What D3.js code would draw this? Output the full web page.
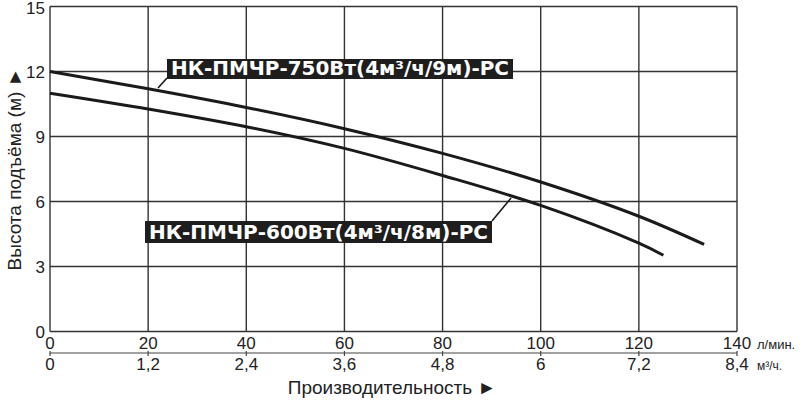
<!DOCTYPE html>
<html><head><meta charset="utf-8">
<script src="https://cdn.jsdelivr.net/npm/d3@7"></script>
<style>body{margin:0;background:#fff}svg{display:block}</style>
</head><body><svg id="c" width="800" height="400"></svg>
<script>
const flowLpm = [0, 20, 40, 60, 80, 100, 120, 140];
const flowM3 = ["0", "1,2", "2,4", "3,6", "4,8", "6", "7,2", "8,4"];
const headTicks = [0, 3, 6, 9, 12, 15];
const series750 = [[0,12],[20,11.2],[40,10.34],[60,9.36],[80,8.22],[100,6.9],[120,5.32],[133.3,4.02]];
const series600 = [[0,11],[20,10.27],[40,9.45],[60,8.45],[80,7.2],[100,5.82],[120,4.08],[125,3.52]];
const label750 = "НК-ПМЧР-750Вт(4м³/ч/9м)-РС";
const label600 = "НК-ПМЧР-600Вт(4м³/ч/8м)-РС";
const xTitle = "Производительность ►";
const yTitle = "Высота подъёма (м) ►";
const unit1 = "л/мин.", unit2 = "м³/ч.";

const svg = d3.select("#c");
const x = d3.scaleLinear().domain([0,140]).range([50,737]);
const y = d3.scaleLinear().domain([0,15]).range([331.5,6.5]);
const ink = "#222";
const font = "'Liberation Sans', Arial, sans-serif";

// grid
svg.append("g").selectAll("line").data(flowLpm).join("line")
  .attr("x1", d=>x(d)).attr("x2", d=>x(d)).attr("y1", y(15)).attr("y2", y(0))
  .attr("stroke", "#333").attr("stroke-width", 1.4);
svg.append("g").selectAll("line").data(headTicks).join("line")
  .attr("x1", x(0)).attr("x2", x(140)).attr("y1", d=>y(d)).attr("y2", d=>y(d))
  .attr("stroke", "#333").attr("stroke-width", 1.4);

// y tick labels
svg.append("g").selectAll("text").data(headTicks).join("text")
  .attr("x", 45).attr("y", d=>Math.max(y(d), 8)).attr("dy", "0.36em").attr("text-anchor", "end")
  .attr("font-family", font).attr("font-size", 17).attr("fill", ink).text(d=>d);

// x labels 1
svg.append("g").selectAll("text").data(flowLpm).join("text")
  .attr("x", d=>x(d)).attr("y", 349).attr("text-anchor", "middle")
  .attr("font-family", font).attr("font-size", 17).attr("fill", ink).text(d=>d);
// secondary axis line
svg.append("line").attr("x1", x(0)).attr("x2", x(140)).attr("y1", 353).attr("y2", 353)
  .attr("stroke", "#444").attr("stroke-width", 1.2);
svg.append("g").selectAll("line").data(flowLpm).join("line")
  .attr("x1", d=>x(d)).attr("x2", d=>x(d)).attr("y1", 351).attr("y2", 356)
  .attr("stroke", "#444").attr("stroke-width", 1.2);
svg.append("g").selectAll("text").data(flowLpm).join("text")
  .attr("x", d=>x(d)).attr("y", 370).attr("text-anchor", "middle")
  .attr("font-family", font).attr("font-size", 17).attr("fill", ink).text((d,i)=>flowM3[i]);

svg.append("text").attr("x", 757).attr("y", 349).attr("font-family", font)
  .attr("font-size", 13).attr("fill", ink).text(unit1);
svg.append("text").attr("x", 757).attr("y", 370).attr("font-family", font)
  .attr("font-size", 12).attr("fill", ink).text(unit2);

// titles
svg.append("text").attr("x", 392).attr("y", 394).attr("text-anchor", "middle")
  .attr("font-family", font).attr("font-size", 19).attr("fill", ink).text(xTitle);
svg.append("text").attr("transform", "translate(21,169) rotate(-90)").attr("text-anchor", "middle")
  .attr("font-family", font).attr("font-size", 19).attr("fill", ink).text(yTitle);

// curves
const line = d3.line().x(d=>x(d[0])).y(d=>y(d[1])).curve(d3.curveCatmullRom.alpha(0.5));
[series750, series600].forEach(s => {
  svg.append("path").attr("d", line(s)).attr("fill", "none")
    .attr("stroke", "#1a1a1a").attr("stroke-width", 3);
});

// labels
function tag(text, bx, by, w, h, lx1, ly1, lx2, ly2) {
  svg.append("line").attr("x1", lx1).attr("y1", ly1).attr("x2", lx2).attr("y2", ly2)
    .attr("stroke", "#1a1a1a").attr("stroke-width", 1.6);
  svg.append("rect").attr("x", bx).attr("y", by).attr("width", w).attr("height", h).attr("fill", "#1e1e1e");
  svg.append("text").attr("x", bx + 4).attr("y", by + h - 4)
    .attr("font-family", "'DejaVu Sans', Verdana, sans-serif").attr("font-weight", "bold")
    .attr("font-size", 19).attr("fill", "#fff")
    .attr("textLength", w - 8).attr("lengthAdjust", "spacingAndGlyphs").text(text);
}
tag(label750, 167, 59, 346, 20, 158, 88, 167, 78);
tag(label600, 145, 221, 347, 22, 492, 221, 511, 198);
</script></body></html>
